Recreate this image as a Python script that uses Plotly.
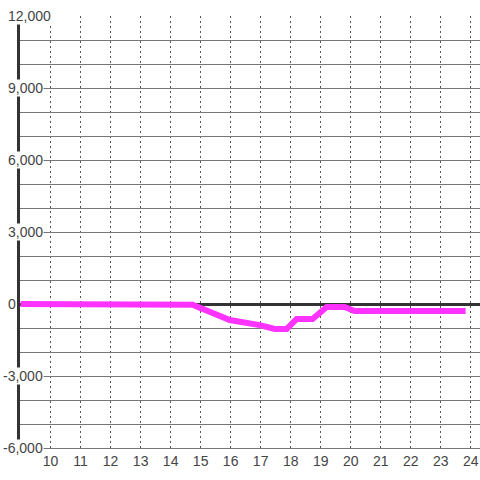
import plotly.graph_objects as go

# hour of day -> value
hours = [9.0, 14.0, 14.73, 15.97, 16.53, 16.97, 17.47, 17.87, 18.2, 18.73, 19.2, 19.8, 20.13, 23.83]
values = [0, 0, -30, -670, -760, -880, -1040, -1040, -625, -625, -125, -125, -290, -290]

x_ticks = list(range(10, 25))
y_ticks = [12000, 9000, 6000, 3000, 0, -3000, -6000]
y_labels = ["12,000", "9,000", "6,000", "3,000", "0", "-3,000", "-6,000"]

FONT = "Liberation Sans, Arial, sans-serif"

fig = go.Figure()
fig.add_trace(go.Scatter(
    x=hours, y=values, mode="lines",
    line=dict(color="#ff33ff", width=6),
    hoverinfo="skip", showlegend=False,
))

# y labels drawn over the axis line, like the original
for v, lab in zip(y_ticks, y_labels):
    left = 2 if lab.startswith("-") else 7
    fig.add_annotation(
        text=lab, xref="paper", yref="y",
        x=(left - 20) / 460, y=v,
        xanchor="left", yanchor="middle",
        showarrow=False, bgcolor="white", borderpad=0,
        font=dict(family=FONT, size=14, color="#444"),
    )

fig.update_layout(
    width=480, height=480,
    margin=dict(l=20, r=0, t=16, b=32),
    paper_bgcolor="white", plot_bgcolor="white",
    hovermode=False,
    xaxis=dict(
        range=[8.98, 24.31], tickvals=x_ticks,
        showgrid=True, gridcolor="#555", gridwidth=1, griddash="2px,3px",
        showline=True, linecolor="#777", linewidth=1,
        zeroline=False, ticks="",
        tickfont=dict(family=FONT, size=14, color="#444"),
    ),
    yaxis=dict(
        range=[-6000, 12000], dtick=1000,
        showgrid=True, gridcolor="#777", gridwidth=1,
        showline=True, linecolor="#333", linewidth=3,
        zeroline=True, zerolinecolor="#333", zerolinewidth=3,
        showticklabels=False, ticks="",
    ),
)

fig.write_html(
    "out.html",
    config={"displayModeBar": False},
    post_script="document.body.style.margin='0';",
)
